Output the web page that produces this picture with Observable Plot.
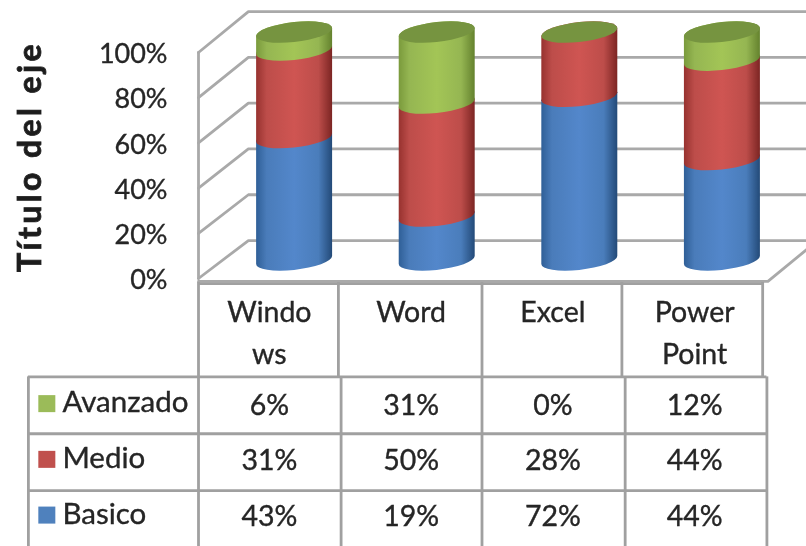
<!DOCTYPE html>
<html><head><meta charset="utf-8">
<script src="https://cdn.jsdelivr.net/npm/d3@7"></script>
<script src="https://cdn.jsdelivr.net/npm/@observablehq/plot@0.6"></script>
<style>
html,body{margin:0;padding:0;background:#fff;width:806px;height:546px;overflow:hidden}
#chart{position:relative;width:806px;height:546px;filter:blur(0.6px)}
#chart svg{display:block;position:absolute;left:0;background:transparent;overflow:hidden}
#chart svg text{stroke:#222;stroke-width:.35px}
.axis-title text{letter-spacing:3.4px;stroke-width:.8px !important}
</style></head><body><div id="chart"></div>
<script>
// ---- data ----
const categories = ["Windows", "Word", "Excel", "Power Point"];
const headerLines = [["Windo", "ws"], ["Word"], ["Excel"], ["Power", "Point"]];
const seriesNames = ["Basico", "Medio", "Avanzado"];
const basico = [43, 19, 72, 44];
const medio = [31, 50, 28, 44];
const avanzado = [6, 31, 0, 12];
const tableOrder = ["Avanzado", "Medio", "Basico"];
const percentTicks = [0, 20, 40, 60, 80, 100];
const axisTitle = "Título del eje";

const valuesBy = {Basico: basico, Medio: medio, Avanzado: avanzado};
const solid = {Basico: "#4f81bd", Medio: "#c0504d", Avanzado: "#9bbb59"};
const shades = {
  Basico: ["#2f5f97", "#4a7cba", "#5387cb", "#4a7dbb", "#234a78"],
  Medio: ["#97322f", "#bd4d4a", "#cf5552", "#bd4d4a", "#7c2523"],
  Avanzado: ["#7a9a3c", "#95b652", "#a3c556", "#95b652", "#64822e"]
};

// ---- 100% stacked rows ----
const TOP = 100.4, FLOOR = -0.4;   // the cylinder sits slightly inside the 3-D box
const rows = [];
categories.forEach((c, i) => {
  const total = seriesNames.reduce((s, n) => s + valuesBy[n][i], 0);
  let acc = 0;
  for (const n of seriesNames) {
    const v = valuesBy[n][i];
    const from = acc / total * 100; acc += v;
    const to = acc / total * 100;
    if (v > 0) rows.push({i, series: n, y1: from === 0 ? FLOOR : from, y2: to >= 99.99 ? TOP : to});
  }
});

// ---- 3-D box, expressed in axis units (column index, percent) ----
const DEPTH_X = 0.352, RIGHT_X = 4.4;
const back = p => 16.8 + 1.013 * p;
const wall = percentTicks.flatMap(p => [
  {p, x: 0, y: p}, {p, x: DEPTH_X, y: back(p)}, {p, x: RIGHT_X, y: back(p)}
]);
const floorEdge = [{x: 0, y: -1.3}, {x: 4.017, y: -1.3}, {x: 4.3, y: 13.3}];
const frontEdge = [{x: 0, y: 0}, {x: 0, y: 100}];

const BAR_L = 0.41, BAR_R = 0.946, BAR_STEP = 1.006, RY = 10, TILT = -6, LIFT = -19;
function skewed(index, scales, values, dims, ctx, next) {
  const g = next(index, scales, values, dims, ctx);
  d3.select(g).selectAll("rect").each(function () {
    const x = +this.getAttribute("x"), w = +this.getAttribute("width");
    const y = +this.getAttribute("y"), h = +this.getAttribute("height");
    const cx = x + w / 2, cy = y + h / 2;
    this.setAttribute("transform", `translate(${cx},${cy}) skewY(${TILT}) translate(${-cx},${-cy})`);
  });
  return g;
}
const gradients = () => {
  const svg = d3.create("svg:g");
  const defs = svg.append("defs");
  for (const n of seriesNames) {
    const lg = defs.append("linearGradient").attr("id", "grad" + n);
    [0, 0.14, 0.5, 0.82, 1].forEach((o, k) =>
      lg.append("stop").attr("offset", o).attr("stop-color", shades[n][k]));
  }
  return svg.node();
};

const font = "Lato, Carlito, 'Open Sans', sans-serif";
const xOpts = {domain: [0, 4], range: [198, 765]};
const GRID = {stroke: "#a9a9a9", strokeWidth: 2.8};
const RULE = {stroke: "#a0a0a0", strokeWidth: 2.8};

const chartPlot = Plot.plot({
  width: 806, height: 300, marginLeft: 168, marginRight: 0, marginTop: 0, marginBottom: 0,
  style: {fontFamily: font, background: "transparent"},
  x: {...xOpts, axis: null},
  y: {domain: [0, 100], range: [278, 52]},
  marks: [
    gradients,
    Plot.line(wall, {x: "x", y: "y", z: "p", ...GRID, curve: "linear"}),
    Plot.line(frontEdge, {x: "x", y: "y", ...GRID}),
    Plot.line(floorEdge, {x: "x", y: "y", ...GRID}),
    Plot.rectY(rows, {
      x1: d => d.i * BAR_STEP + BAR_L, x2: d => d.i * BAR_STEP + BAR_R, y1: "y1", y2: "y2",
      fill: d => `url(#grad${d.series})`,
      rx: 38, ry: RY, insetTop: -RY, insetBottom: -RY, dy: LIFT, render: skewed
    }),
    Plot.rectY(categories, {
      x1: (d, i) => i * BAR_STEP + BAR_L, x2: (d, i) => i * BAR_STEP + BAR_R, y1: () => TOP, y2: () => TOP,
      fill: "#769440", rx: 38, ry: RY, insetTop: -RY, insetBottom: -RY, dy: LIFT, render: skewed
    }),
    Plot.axisY({ticks: percentTicks, tickFormat: d => d + "%", tickSize: 0, tickPadding: 1,
      anchor: "left", fontSize: 27, fill: "#262626", label: null, dy: 2}),
    Plot.text([axisTitle], {x: () => -1.184, y: () => 54, text: d => d, rotate: -90,
      fontSize: 32, fontWeight: 700, fill: "#1c1c1c", className: "axis-title"})
  ]
});
chartPlot.style.top = "0px";

// ---- data table: x = column index, y = row index (the header sits above row 0) ----
const HEADER = -1.66;
const headerEdges = [0, 0.987, 2, 2.987, 3.98];
const bodyEdges = [0, 1.006, 2, 3.01, 4.01];
const TABLE_LEFT = -1.2;
const hLines = [
  {x1: 0, x2: 3.98, y: HEADER + 0.02},
  {x1: TABLE_LEFT, x2: 4.01, y: 0},
  {x1: TABLE_LEFT, x2: 4.01, y: 1},
  {x1: TABLE_LEFT, x2: 4.01, y: 2}
];
const rowText = r => r + 0.47 - 0.02 * r;
const cells = tableOrder.flatMap((n, r) =>
  valuesBy[n].map((v, i) => ({x: i + 0.5, y: rowText(r), label: v + "%"})));
const heads = headerLines.flatMap((ls, i) =>
  ls.map((t, k) => ({x: i + 0.5, y: -1.14 + k * 0.74, label: t})));
const legend = tableOrder.map((n, r) => ({n, y: rowText(r)}));

const tablePlot = Plot.plot({
  width: 806, height: 264, margin: 0,
  style: {fontFamily: font, background: "transparent"},
  x: {...xOpts, axis: null},
  y: {domain: [HEADER, 3], range: [0, 265], axis: null},
  marks: [
    Plot.ruleY(hLines, {x1: "x1", x2: "x2", y: "y", ...RULE}),
    Plot.ruleX(headerEdges, {y1: HEADER, y2: 0, ...RULE}),
    Plot.ruleX(bodyEdges, {y1: 0, y2: 3, ...RULE}),
    Plot.ruleX([TABLE_LEFT], {y1: 0, y2: 3, ...RULE}),
    Plot.text(heads, {x: "x", y: "y", text: "label", dy: 1, fontSize: 28.5, fill: "#262626"}),
    Plot.text(cells, {x: "x", y: "y", text: "label", dy: 2, fontSize: 28.5, fill: "#262626"}),
    Plot.dot(legend, {x: () => -1.07, y: "y", symbol: "square", r: 9.6, fill: d => solid[d.n]}),
    Plot.text(legend, {x: () => -0.96, y: "y", text: "n", textAnchor: "start", dy: -1, fontSize: 29.5, fill: "#262626"})
  ]
});
tablePlot.style.top = "282px";

document.getElementById("chart").append(chartPlot, tablePlot);
</script></body></html>
